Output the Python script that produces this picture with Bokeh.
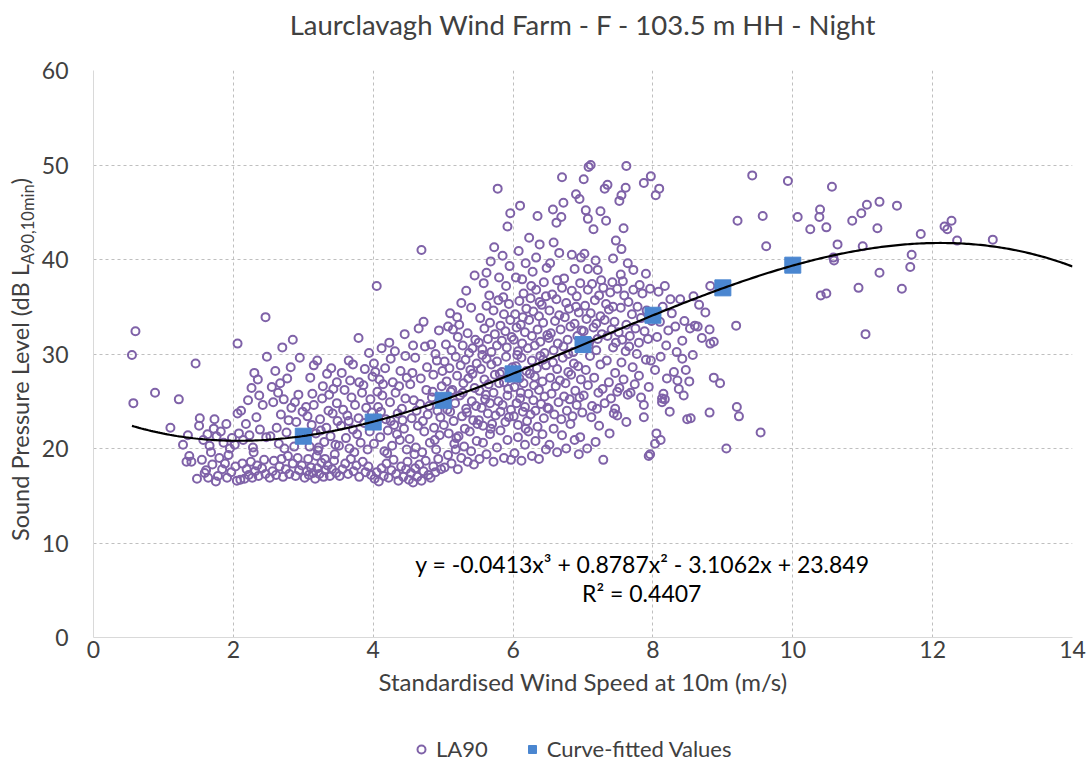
import numpy as np
from bokeh.plotting import figure
from bokeh.models import Range1d, FixedTicker, Label, Legend, LegendItem, ColumnDataSource, Title, Div
from bokeh.layouts import row, column
from bokeh.embed import file_html
from bokeh.resources import INLINE

# ---------------- texts ----------------
TITLE = "Laurclavagh Wind Farm - F - 103.5 m HH - Night"
X_LABEL = "Standardised Wind Speed at 10m (m/s)"
Y_LABEL_MAIN = "Sound Pressure Level (dB L"
Y_LABEL_SUB = "A90,10min"
Y_LABEL_END = ")"
EQ_TEXT = "y = -0.0413x³ + 0.8787x² - 3.1062x + 23.849"
R2_TEXT = "R² = 0.4407"
LEGEND_LABELS = ["LA90", "Curve-fitted Values"]

x_ticks = [0, 2, 4, 6, 8, 10, 12, 14]
y_ticks = [0, 10, 20, 30, 40, 50, 60]

# ---------------- curve-fitted values ----------------
fit_x = [3, 4, 5, 6, 7, 8, 9, 10]
fit_y = [21.3, 22.8, 25.1, 27.9, 31.0, 34.1, 37.0, 39.4]
trend_coef = [-0.0413, 0.8787, -3.1062, 23.849]   # shown on chart
trend_span = [0.55, 14.0]

# ---------------- LA90 measurements (wind speed, dB) ----------------
ws_0_15 = [(0.55,29.9),(0.60,32.4),(0.57,24.8),(0.88,25.9),(1.22,25.2),(1.10,22.2),(1.46,29.0),(1.28,20.4),
           (1.35,21.4),(1.37,19.2),(1.33,18.6),(1.40,18.6),(1.48,16.8),(1.52,23.2),(1.51,22.4)]
ws_15_20 = [(1.55,18.8),(1.61,17.7),(1.59,17.4),(1.70,18.3),(1.75,16.5),(1.78,17.1),(1.80,19.0),(1.91,16.9),
            (1.63,21.5),(1.66,20.3),(1.72,22.1),(1.76,21.3),(1.82,21.8),(1.86,20.6),(1.90,22.6),(1.95,20.0),
            (1.98,21.1),(1.57,20.9),(1.68,19.6),(1.84,17.8),(1.88,18.4),(1.93,19.3),(1.73,23.1),(1.97,17.5),(1.64,16.9)]
ws_20_25 = [(2.05,16.6),(2.10,16.7),(2.16,16.8),(2.22,17.2),(2.27,16.9),(2.31,17.6),(2.36,17.1),(2.41,17.9),
            (2.46,17.3),(2.03,18.1),(2.13,18.4),(2.19,17.8),(2.25,18.6),(2.34,18.2),(2.44,18.8),
            (2.06,23.7),(2.11,24.0),(2.02,20.4),(2.08,21.6),(2.14,20.9),(2.18,22.6),(2.23,21.4),(2.28,20.1),
            (2.33,23.3),(2.38,22.0),(2.42,24.6),(2.47,21.2),(2.21,25.1),(2.29,19.6),(2.37,25.6),
            (2.06,31.1),(2.30,28.0),(2.35,27.3),(2.46,33.9),(2.26,26.4),(2.48,29.7)]
ws_25_30 = [(2.52,16.9),(2.56,17.6),(2.61,17.2),(2.66,18.1),(2.71,17.0),(2.75,17.8),(2.80,17.3),(2.85,18.4),
            (2.89,17.1),(2.94,17.7),(2.98,18.2),(2.58,18.7),(2.69,18.9),(2.78,19.2),(2.92,19.0),
            (2.53,21.3),(2.57,24.9),(2.62,22.2),(2.65,20.5),(2.68,23.6),(2.72,25.2),(2.76,21.7),(2.79,23.0),
            (2.83,24.3),(2.87,20.2),(2.90,22.8),(2.93,25.7),(2.96,21.0),(2.99,23.9),(2.55,26.5),(2.73,20.0),
            (2.88,24.9),(2.64,25.9),
            (2.70,30.7),(2.82,28.6),(2.60,28.2),(2.77,27.4),(2.95,29.6),(2.67,26.9),(2.85,31.5)]
ws_30_35 = [(3.02,16.9),(3.05,17.6),(3.08,17.2),(3.11,18.0),(3.14,17.4),(3.17,16.8),(3.20,17.9),(3.23,17.3),
            (3.26,18.5),(3.29,17.0),(3.32,17.7),(3.35,18.2),(3.38,17.1),(3.41,17.8),(3.44,18.7),(3.47,17.4),
            (3.07,18.9),(3.19,19.2),(3.31,18.9),(3.45,19.4),
            (3.03,21.0),(3.06,23.4),(3.09,20.2),(3.12,22.5),(3.15,24.6),(3.18,21.6),(3.21,19.8),(3.24,23.1),
            (3.27,25.3),(3.30,20.7),(3.33,22.2),(3.36,24.0),(3.39,21.3),(3.42,23.7),(3.46,20.4),(3.49,22.9),
            (3.13,25.8),(3.25,21.9),(3.37,25.7),(3.48,24.8),(3.04,24.4),(3.22,20.1),
            (3.10,27.5),(3.15,28.8),(3.28,26.6),(3.34,27.9),(3.43,26.3),(3.48,27.0),(3.20,29.3),(3.40,28.5)]
ws_35_40 = [(3.52,17.1),(3.56,17.8),(3.60,18.4),(3.64,17.3),(3.68,18.9),(3.72,17.6),(3.76,18.2),(3.80,17.0),
            (3.85,18.6),(3.89,17.5),(3.93,18.1),(3.97,17.2),
            (3.51,20.3),(3.54,22.4),(3.57,24.1),(3.61,21.1),(3.63,23.5),(3.66,20.0),(3.69,25.4),(3.71,22.0),
            (3.74,24.6),(3.77,21.5),(3.79,23.2),(3.82,20.6),(3.84,25.9),(3.87,22.7),(3.90,24.3),(3.92,19.9),
            (3.95,21.8),(3.98,23.8),(3.59,26.2),(3.73,19.6),(3.86,26.7),(3.96,25.2),(3.65,22.9),
            (3.65,29.3),(3.79,31.7),(3.67,27.2),(3.80,27.0),(3.55,28.0),(3.88,28.4),(3.94,30.1),(3.71,28.9),(3.99,27.6)]
ws_40_45 = [(4.02,16.8),(4.05,17.5),(4.08,16.5),(4.12,17.9),(4.15,17.1),(4.19,18.4),(4.22,16.9),(4.26,17.7),
            (4.29,18.8),(4.33,17.3),(4.36,16.6),(4.40,18.1),(4.43,17.0),(4.47,17.8),(4.49,18.6),
            (4.01,20.5),(4.04,22.8),(4.07,24.4),(4.10,21.2),(4.13,25.6),(4.16,19.7),(4.18,23.1),(4.21,21.9),
            (4.24,24.9),(4.27,20.3),(4.30,22.5),(4.32,25.9),(4.35,23.7),(4.38,20.9),(4.41,24.2),(4.44,22.1),
            (4.46,25.3),(4.48,19.9),(4.06,26.0),(4.20,19.5),(4.34,21.5),(4.42,23.0),(4.11,23.9),(4.25,22.9),
            (4.03,28.1),(4.01,29.0),(4.25,29.5),(4.46,29.8),(4.05,37.2),(4.09,27.3),(4.14,26.8),(4.17,28.5),
            (4.28,27.0),(4.31,30.3),(4.37,26.6),(4.39,28.2),(4.45,32.1),(4.23,31.2),(4.48,27.5),(4.12,30.6)]
ws_45_50 = [(4.51,16.7),(4.54,17.4),(4.57,16.4),(4.60,17.9),(4.63,17.0),(4.66,18.3),(4.69,16.6),(4.72,17.6),
            (4.75,18.7),(4.79,17.2),(4.82,16.9),(4.86,18.1),(4.89,17.5),(4.93,18.9),(4.97,17.8),
            (4.52,21.0),(4.55,23.2),(4.58,25.1),(4.61,20.1),(4.64,22.4),(4.67,24.7),(4.70,19.6),(4.73,21.8),
            (4.76,26.2),(4.78,23.6),(4.81,20.6),(4.84,25.4),(4.87,22.2),(4.90,19.9),(4.92,24.0),(4.95,21.4),
            (4.98,26.6),(4.53,26.8),(4.62,24.0),(4.71,22.9),(4.80,24.5),(4.88,20.9),(4.96,23.3),(4.59,19.4),(4.85,26.0),
            (4.65,32.7),(4.56,28.0),(4.60,29.6),(4.68,27.4),(4.74,30.8),(4.77,28.6),(4.83,31.0),(4.86,27.8),
            (4.91,29.3),(4.94,32.5),(4.99,28.2),(4.57,30.9),(4.72,33.4),(4.89,30.0),(4.69,41.0)]
ws_50_55 = [(5.02,18.0),(5.07,19.3),(5.12,18.4),(5.16,20.5),(5.21,17.8),(5.26,19.0),(5.30,20.2),(5.35,18.6),
            (5.40,19.7),(5.44,18.3),(5.48,20.8),(5.18,19.9),
            (5.01,22.5),(5.03,25.3),(5.05,27.1),(5.08,21.6),(5.10,23.9),(5.13,26.2),(5.15,22.9),(5.17,24.8),
            (5.20,27.7),(5.22,21.3),(5.24,25.6),(5.27,23.4),(5.29,26.9),(5.31,22.1),(5.33,24.2),(5.36,27.4),
            (5.38,21.8),(5.41,25.0),(5.43,23.0),(5.45,26.4),(5.47,24.5),(5.49,22.6),(5.06,24.1),(5.19,21.1),
            (5.28,25.9),(5.34,23.8),(5.42,27.9),(5.11,26.0),
            (5.02,29.2),(5.04,31.0),(5.09,28.5),(5.12,30.4),(5.14,32.6),(5.18,29.7),(5.21,31.8),(5.25,28.8),
            (5.28,30.9),(5.32,29.4),(5.35,32.2),(5.39,28.3),(5.42,30.6),(5.46,31.5),(5.48,29.0),(5.07,32.9),
            (5.23,33.1),(5.37,30.1),
            (5.10,34.3),(5.26,35.4),(5.33,36.7),(5.45,38.3),(5.40,34.9),(5.20,33.9)]
ws_55_60 = [(5.52,18.9),(5.57,20.6),(5.62,19.4),(5.67,21.5),(5.72,18.6),(5.77,20.1),(5.82,21.9),(5.87,19.0),
            (5.92,20.9),(5.97,18.8),
            (5.51,23.0),(5.52,26.1),(5.54,28.4),(5.55,24.3),(5.57,22.4),(5.59,27.3),(5.60,25.2),(5.62,29.5),
            (5.64,23.7),(5.65,26.8),(5.67,24.8),(5.69,28.9),(5.70,22.6),(5.72,25.9),(5.74,27.8),(5.75,23.5),
            (5.77,29.2),(5.79,25.0),(5.80,26.9),(5.82,23.9),(5.84,28.1),(5.85,24.6),(5.87,27.0),(5.89,22.8),
            (5.90,29.7),(5.92,25.6),(5.94,23.3),(5.95,27.5),(5.97,24.1),(5.99,28.6),(5.56,29.9),(5.68,22.1),
            (5.81,27.9),(5.93,26.3),(5.61,25.7),
            (5.51,31.2),(5.53,33.8),(5.56,30.5),(5.59,32.7),(5.62,35.1),(5.64,31.6),(5.67,33.3),(5.69,30.2),
            (5.72,34.6),(5.74,32.1),(5.77,30.9),(5.79,35.7),(5.82,33.0),(5.84,31.4),(5.87,34.2),(5.89,32.4),
            (5.91,30.7),(5.94,35.3),(5.96,33.6),(5.98,31.8),(5.66,36.2),(5.86,36.0),
            (5.58,37.5),(5.62,38.6),(5.73,41.3),(5.68,39.8),(5.80,38.1),(5.85,40.4),(5.90,37.2),(5.95,39.3),
            (5.78,47.5),(5.92,43.5),(5.96,44.9)]
ws_60_65 = [(6.02,19.5),(6.07,21.2),(6.12,18.7),(6.17,20.4),(6.22,21.8),(6.27,19.2),(6.32,20.8),(6.37,18.9),
            (6.42,21.5),(6.47,19.9),
            (6.01,23.4),(6.02,26.5),(6.04,28.7),(6.05,24.8),(6.07,22.5),(6.09,27.4),(6.10,25.3),(6.12,29.6),
            (6.14,23.9),(6.15,26.9),(6.17,24.4),(6.19,28.2),(6.20,22.9),(6.22,25.8),(6.24,27.9),(6.25,23.6),
            (6.27,29.3),(6.29,25.1),(6.30,26.7),(6.32,24.0),(6.34,28.5),(6.35,22.3),(6.37,26.2),(6.39,29.8),
            (6.40,24.7),(6.42,27.1),(6.44,23.2),(6.45,25.5),(6.47,28.8),(6.49,24.3),(6.06,29.9),(6.18,22.1),
            (6.31,27.6),(6.43,29.4),(6.11,25.9),
            (6.01,31.5),(6.03,34.2),(6.05,32.8),(6.07,30.3),(6.09,35.6),(6.11,33.1),(6.13,31.1),(6.15,36.4),
            (6.17,32.3),(6.19,34.8),(6.21,30.6),(6.23,33.6),(6.25,35.9),(6.27,31.9),(6.29,34.5),(6.31,30.9),
            (6.33,36.8),(6.35,32.6),(6.37,34.0),(6.39,31.3),(6.41,35.2),(6.43,33.3),(6.45,30.1),(6.47,36.1),
            (6.49,32.0),(6.14,33.9),(6.26,37.2),(6.38,35.5),
            (6.04,38.1),(6.08,40.9),(6.13,37.9),(6.18,39.6),(6.23,42.3),(6.28,38.7),(6.33,40.2),(6.38,41.6),
            (6.44,37.6),(6.48,39.1),(6.10,45.7),(6.35,44.6)]
ws_65_70 = [(6.52,20.4),(6.58,22.1),(6.63,19.6),(6.70,21.4),(6.76,20.0),(6.82,22.6),(6.88,20.9),(6.94,19.4),
            (6.51,24.2),(6.53,27.5),(6.55,25.8),(6.57,29.1),(6.59,23.6),(6.61,26.6),(6.63,28.4),(6.65,24.9),
            (6.67,27.2),(6.69,23.1),(6.71,29.6),(6.73,25.5),(6.75,26.9),(6.77,24.0),(6.79,28.1),(6.81,25.2),
            (6.83,27.8),(6.85,23.4),(6.87,29.0),(6.89,26.1),(6.91,24.6),(6.93,28.7),(6.95,25.4),(6.97,27.3),(6.99,23.8),
            (6.51,31.7),(6.52,34.6),(6.54,32.2),(6.56,36.3),(6.58,30.4),(6.60,33.5),(6.62,35.8),(6.64,31.1),
            (6.66,34.1),(6.68,32.6),(6.70,37.0),(6.72,30.8),(6.74,33.9),(6.76,35.4),(6.78,31.5),(6.80,34.8),
            (6.82,32.9),(6.84,36.7),(6.86,30.2),(6.88,33.2),(6.90,35.0),(6.92,31.9),(6.94,34.4),(6.96,37.5),
            (6.98,32.5),(6.63,37.8),(6.79,30.0),(6.91,36.1),
            (6.53,39.6),(6.58,41.8),(6.62,43.9),(6.70,48.7),(6.69,44.5),(6.72,46.0),(6.73,38.0),(6.84,40.5),
            (6.88,39.0),(6.90,46.9),(6.95,46.4),(6.97,40.2),(6.66,40.7),(6.57,45.3)]
ws_70_75 = [(7.06,20.0),(7.29,18.8),(6.96,21.2),(7.23,22.4),(7.12,23.3),(7.38,21.6),(7.44,23.7),(7.18,20.7),
            (7.01,25.6),(7.04,28.3),(7.07,26.7),(7.10,29.8),(7.13,24.5),(7.16,27.5),(7.19,30.4),(7.22,25.9),
            (7.25,28.9),(7.28,26.3),(7.31,24.8),(7.34,29.3),(7.37,27.0),(7.40,25.3),(7.43,30.7),(7.46,28.0),
            (7.49,26.0),(7.20,24.2),
            (7.01,32.4),(7.03,35.1),(7.05,33.7),(7.07,36.8),(7.09,31.3),(7.11,34.3),(7.13,37.4),(7.15,32.8),
            (7.17,35.7),(7.19,33.2),(7.21,31.6),(7.23,36.2),(7.25,34.0),(7.27,32.1),(7.29,37.0),(7.31,33.6),
            (7.33,35.3),(7.35,31.9),(7.37,34.7),(7.39,36.5),(7.41,32.6),(7.43,35.0),(7.45,33.4),(7.47,31.2),
            (7.49,36.9),(7.08,30.9),(7.26,37.8),(7.42,37.6),
            (7.01,48.5),(7.04,45.2),(7.07,44.3),(7.07,39.0),(7.08,49.8),(7.11,50.0),(7.15,43.2),(7.18,39.9),
            (7.21,38.9),(7.25,45.1),(7.31,47.5),(7.33,44.1),(7.35,47.9),(7.43,40.1),(7.02,40.6),(7.47,42.0)]
ws_75_80 = [(7.49,23.5),(7.46,24.2),(7.87,23.3),(7.94,19.2),(7.96,19.4),(7.62,22.8),
            (7.52,26.4),(7.55,29.1),(7.58,27.3),(7.61,30.3),(7.64,25.7),(7.68,25.9),(7.71,28.6),(7.74,26.8),
            (7.77,30.0),(7.80,27.7),(7.83,25.4),(7.87,24.6),(7.90,29.4),(7.94,26.5),(7.97,29.3),
            (7.51,32.3),(7.54,34.9),(7.56,31.5),(7.59,36.2),(7.62,33.1),(7.65,35.5),(7.67,31.9),(7.70,34.2),
            (7.72,36.8),(7.75,32.7),(7.78,35.0),(7.80,31.2),(7.83,33.8),(7.85,36.4),(7.88,32.4),(7.91,34.6),
            (7.93,31.6),(7.96,36.9),(7.98,33.5),(7.57,37.7),(7.81,37.3),(7.66,30.8),
            (7.52,46.2),(7.54,38.4),(7.55,41.1),(7.55,46.8),(7.58,43.3),(7.61,47.6),(7.62,49.9),(7.72,38.9),
            (7.87,48.1),(7.97,48.8),(7.64,39.6),(7.90,38.5)]
ws_80_85 = [(8.03,20.5),(8.11,20.9),(8.05,21.6),(8.49,23.1),(8.13,25.3),(8.17,25.2),(8.15,25.8),(8.13,24.9),
            (8.35,27.2),(8.37,26.3),(8.30,28.1),(8.03,28.3),(8.47,28.3),(8.42,29.5),(8.11,29.7),(8.42,31.4),
            (8.32,32.9),(8.45,33.5),(8.39,35.8),(8.25,35.8),(8.17,37.2),(8.09,47.5),(8.04,46.8),(8.06,31.8),
            (8.10,33.4),(8.14,35.0),(8.19,30.9),(8.22,32.5),(8.27,34.3),(8.20,27.4),(8.08,36.6),(8.34,30.2),
            (8.02,34.1),(8.24,23.9),(8.44,25.6)]
ws_85_90 = [(8.53,32.7),(8.60,33.0),(8.58,36.1),(8.82,37.2),(8.64,32.9),(8.81,32.6),(8.70,31.7),(8.82,31.1),
            (8.87,31.3),(8.87,27.5),(8.96,26.9),(8.54,23.2),(8.81,23.8),(8.52,27.1),(8.66,35.2),(8.75,34.4),(8.57,29.9)]
ws_90_100 = [(9.05,20.0),(9.19,33.0),(9.20,24.4),(9.23,23.4),(9.54,21.7),(9.42,48.9),(9.93,48.3),(9.21,44.1),
             (9.57,44.6),(9.62,41.4)]
ws_100_130 = [(10.07,44.5),(10.56,47.7),(10.39,45.3),(10.38,44.5),(10.25,43.2),(10.48,43.4),(10.85,44.1),
              (10.98,44.9),(11.06,45.8),(10.64,41.6),(11.00,41.4),(10.58,40.2),(10.59,39.9),(10.94,37.0),
              (10.40,36.2),(10.48,36.4),(11.04,32.1),(11.24,46.1),(11.49,45.7),(11.21,43.3),(11.83,42.7),
              (12.17,43.5),(12.21,43.2),(12.27,44.1),(12.35,42.0),(12.86,42.1),(11.70,40.5),(11.68,39.2),
              (11.24,38.6),(11.56,36.9)]

bands = [ws_0_15, ws_15_20, ws_20_25, ws_25_30, ws_30_35, ws_35_40, ws_40_45, ws_45_50, ws_50_55,
         ws_55_60, ws_60_65, ws_65_70, ws_70_75, ws_75_80, ws_80_85, ws_85_90, ws_90_100, ws_100_130]
la90_x = [pt[0] for b in bands for pt in b]
la90_y = [pt[1] for b in bands for pt in b]

# ---------------- styling ----------------
FONT = "Lato"
TXT = "#404040"
PURPLE = "#7f62a8"
BLUE = "#4a86d0"
LEFT_W = 37          # width of the y-title strip
LEG_H = 36           # height of the legend strip
MAIN_H = 762 - LEG_H

p = figure(width=1091 - LEFT_W, height=MAIN_H, output_backend="svg", toolbar_location=None, title=None,
           x_range=Range1d(0, 14), y_range=Range1d(0, 60),
           min_border_left=56, min_border_right=19, min_border_top=70, min_border_bottom=MAIN_H - 637)
p.outline_line_color = None
p.background_fill_color = "white"
p.border_fill_color = "white"

# title: a small spacer title next to the frame, then the real title above it
p.add_layout(Title(text=" ", text_font_size="10px", standoff=16), "above")
p.add_layout(Title(text=TITLE, align="center", vertical_align="middle", standoff=0,
                   text_font=FONT, text_font_size="27.5px", text_font_style="normal",
                   text_color=TXT), "above")

p.xaxis.ticker = FixedTicker(ticks=x_ticks)
p.yaxis.ticker = FixedTicker(ticks=y_ticks)
for ax in (p.xaxis[0], p.yaxis[0]):
    ax.major_tick_line_color = None
    ax.minor_tick_line_color = None
    ax.major_tick_out = 0
    ax.major_tick_in = 0
    ax.minor_tick_out = 0
    ax.minor_tick_in = 0
    ax.axis_line_color = "#d9d9d9"
    ax.major_label_text_font = FONT
    ax.major_label_text_font_size = "23px"
    ax.major_label_text_color = TXT
p.xaxis.major_label_standoff = 3
p.yaxis.major_label_standoff = 25
p.xaxis.axis_label = X_LABEL
p.xaxis.axis_label_text_font = FONT
p.xaxis.axis_label_text_font_size = "24px"
p.xaxis.axis_label_text_font_style = "normal"
p.xaxis.axis_label_text_color = TXT
p.xaxis.axis_label_standoff = 6

for g in (p.xgrid[0], p.ygrid[0]):
    g.grid_line_color = "#bfbfbf"
    g.grid_line_dash = "3 3"
    g.grid_line_width = 1

src = ColumnDataSource(dict(x=la90_x, y=la90_y))
p.scatter("x", "y", source=src, marker="circle", size=8, fill_color=None,
          line_color=PURPLE, line_width=2.0)
fit_src = ColumnDataSource(dict(x=fit_x, y=fit_y))
p.scatter("x", "y", source=fit_src, marker="square", size=16, fill_color=BLUE, line_color=BLUE)
tx = np.linspace(trend_span[0], trend_span[1], 400)
ty = np.polyval(trend_coef, tx)
p.line(tx, ty, line_color="black", line_width=2.2)

p.add_layout(Label(x=7.85, y=7.8, text=EQ_TEXT, text_align="center", text_baseline="middle",
                   text_font=FONT, text_font_size="23px", text_color="#000000"))
p.add_layout(Label(x=7.84, y=4.76, text=R2_TEXT, text_align="center", text_baseline="middle",
                   text_font=FONT, text_font_size="23px", text_color="#000000"))

# y-axis title with a true subscript, rotated, in a narrow strip left of the figure
ytitle_html = (
    '<div style="position:absolute; left:7px; top:541px; transform:rotate(-90deg); '
    'transform-origin:0 0; white-space:nowrap; font-family:Lato; font-size:23.5px; '
    f'line-height:26px; color:{TXT};">{Y_LABEL_MAIN}'
    f'<sub style="font-size:16.5px; line-height:0; vertical-align:-5px;">{Y_LABEL_SUB}</sub>'
    f'{Y_LABEL_END}</div>'
)
ytitle = Div(text=ytitle_html, width=LEFT_W, height=MAIN_H, margin=0, styles={"overflow": "visible"})

# legend strip below the chart: the same two series, drawn out of view, feed the legend swatches
lg = figure(width=1091, height=LEG_H, output_backend="svg", toolbar_location=None,
            x_range=Range1d(100, 101), y_range=Range1d(100, 101), x_axis_type=None, y_axis_type=None,
            min_border=0)
lg.outline_line_color = None
lg.xgrid.visible = False
lg.ygrid.visible = False
lg_pts = lg.scatter("x", "y", source=src, marker="circle", size=8, fill_color=None,
                    line_color=PURPLE, line_width=2.0)
lg_fit = lg.scatter("x", "y", source=fit_src, marker="square", size=16, fill_color=BLUE, line_color=BLUE)
legend = Legend(items=[LegendItem(label=LEGEND_LABELS[0], renderers=[lg_pts]),
                       LegendItem(label=LEGEND_LABELS[1], renderers=[lg_fit])],
                orientation="horizontal", location=(411, 0),
                border_line_color=None, background_fill_alpha=0,
                label_text_font=FONT, label_text_font_size="22px", label_text_color=TXT,
                glyph_width=20, glyph_height=20, spacing=34, label_standoff=5, padding=0, margin=0)
lg.add_layout(legend, "center")

layout = column(row(ytitle, p, spacing=0), lg, spacing=0)
open("out.html", "w").write(file_html(layout, INLINE))
